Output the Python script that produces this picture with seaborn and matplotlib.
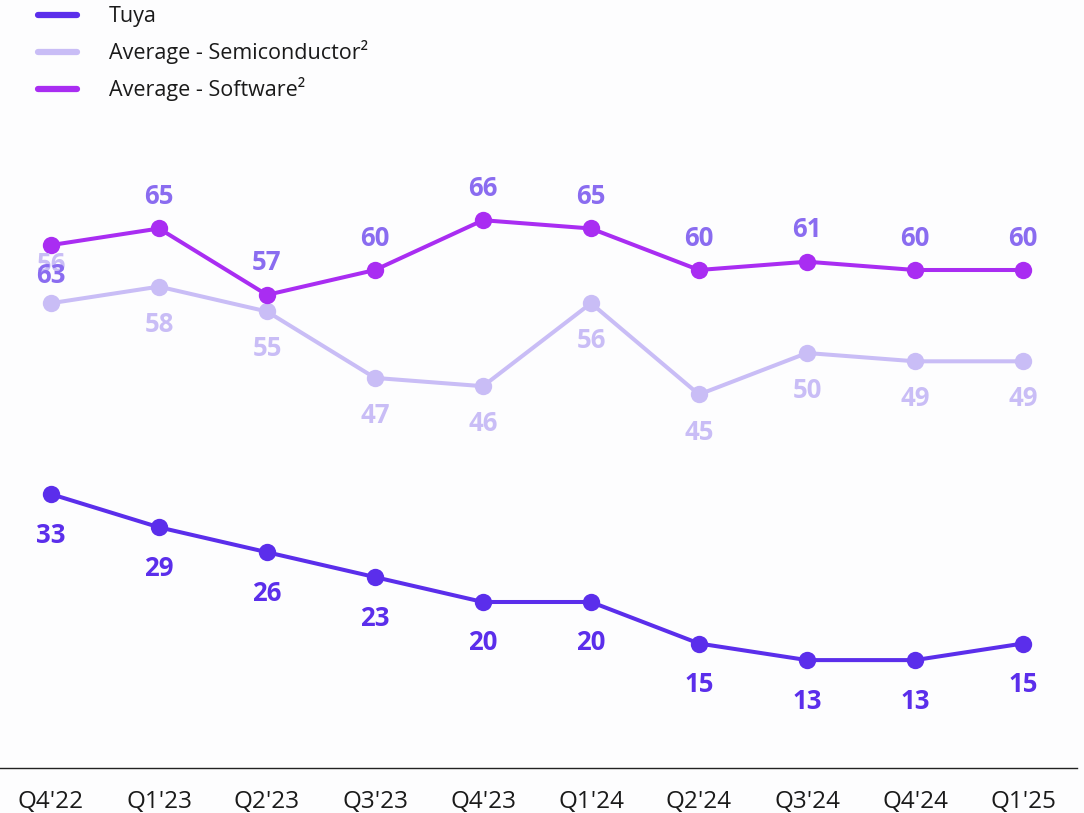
import matplotlib
matplotlib.use("Agg")
import matplotlib.pyplot as plt
import seaborn as sns
import pandas as pd
from matplotlib.lines import Line2D

quarters = ["Q4'22", "Q1'23", "Q2'23", "Q3'23", "Q4'23", "Q1'24", "Q2'24", "Q3'24", "Q4'24", "Q1'25"]
tuya = [33, 29, 26, 23, 20, 20, 15, 13, 13, 15]
semiconductor = [56, 58, 55, 47, 46, 56, 45, 50, 49, 49]
software = [63, 65, 57, 60, 66, 65, 60, 61, 60, 60]

series_names = ["Tuya", "Average - Semiconductor\u00b2", "Average - Software\u00b2"]
line_colors = ["#5B2EEB", "#C9BDF6", "#A92DF2"]
label_colors = ["#5B2EEB", "#C9BDF6", "#8A6CF0"]

sns.set_theme(style="white")
plt.rcParams["font.family"] = ["Open Sans", "DejaVu Sans"]

df = pd.DataFrame({
    "quarter": quarters * 3,
    "x": list(range(len(quarters))) * 3,
    "value": tuya + semiconductor + software,
    "series": [series_names[0]] * 10 + [series_names[1]] * 10 + [series_names[2]] * 10,
})

fig = plt.figure(figsize=(10.84, 8.13), dpi=100)
fig.patch.set_facecolor("#FDFDFE")
ax = fig.add_axes([0, 45 / 813, 1077 / 1084, 664 / 813])
ax.set_facecolor("#FDFDFE")

sns.lineplot(data=df, x="x", y="value", hue="series", hue_order=series_names,
             palette=dict(zip(series_names, line_colors)), marker="o",
             markersize=12.5, markeredgewidth=0, linewidth=2.9, legend=False, ax=ax)

ax.set_xlim(-51 / 108, (1077 - 51) / 108)
ax.set_ylim(0, 80)
ax.set_xticks(range(len(quarters)))
ax.set_xticklabels(quarters, fontsize=17.5, color="#1a1a1a")
ax.tick_params(axis="x", length=0, pad=16)
ax.set_yticks([])
ax.set_xlabel("")
ax.set_ylabel("")
for s in ["top", "right", "left"]:
    ax.spines[s].set_visible(False)
ax.spines["bottom"].set_color("#222222")
ax.spines["bottom"].set_linewidth(1.0)

# data labels
lab_fs = 18.5
for i, v in enumerate(tuya):
    ax.annotate(str(v), (i, v), xytext=(0, -29.5), textcoords="offset points",
                ha="center", va="center", fontsize=lab_fs, fontweight="bold", color=label_colors[0])
for i, v in enumerate(semiconductor):
    off = 28 if i == 0 else -27
    ax.annotate(str(v), (i, v), xytext=(0, off), textcoords="offset points",
                ha="center", va="center", fontsize=lab_fs, fontweight="bold", color=label_colors[1])
for i, v in enumerate(software):
    off = -22 if i == 0 else 23
    ax.annotate(str(v), (i, v), xytext=(0, off), textcoords="offset points",
                ha="center", va="center", fontsize=lab_fs, fontweight="bold", color=label_colors[2])

handles = [Line2D([0], [0], color=c, linewidth=4.5, solid_capstyle="round") for c in line_colors]
leg = fig.legend(handles, series_names, loc="upper left", bbox_to_anchor=(0.017, 1.016),
                 frameon=False, fontsize=15.5, handlelength=1.8, handletextpad=1.5,
                 labelspacing=0.6)
for t in leg.get_texts():
    t.set_color("#1a1a1a")

fig.savefig("out.png", dpi=100, facecolor=fig.get_facecolor())
